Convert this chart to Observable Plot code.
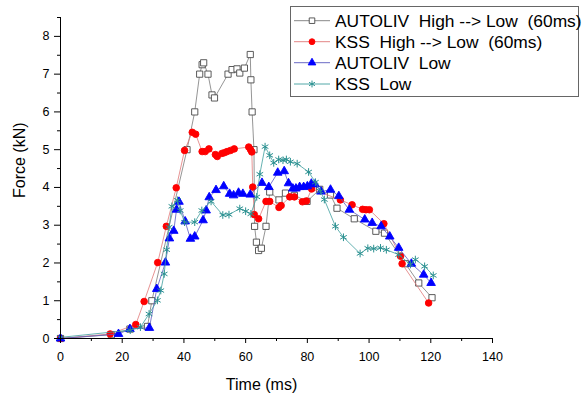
<!DOCTYPE html>
<html><head><meta charset="utf-8">
<script src="https://cdn.jsdelivr.net/npm/d3@7"></script>
<script src="https://cdn.jsdelivr.net/npm/@observablehq/plot@0.6"></script>
<style>
body{margin:0;background:#fff;}
#wrap{position:relative;width:587px;height:394px;font-family:"Liberation Sans",Arial,sans-serif;}
#wrap svg{display:block}
#legend{position:absolute;left:0;top:0;pointer-events:none}
</style></head><body><div id="wrap"></div>
<script>
const xTicks = [0, 20, 40, 60, 80, 100, 120, 140];
const xMinor = [10, 30, 50, 70, 90, 110, 130];
const yTicks = [0, 1, 2, 3, 4, 5, 6, 7, 8];
const yMinor = [0.5, 1.5, 2.5, 3.5, 4.5, 5.5, 6.5, 7.5, 8.5];
const seriesNames = ["AUTOLIV  High --> Low  (60ms)", "KSS  High --> Low  (60ms)", "AUTOLIV  Low", "KSS  Low"];

const autolivHLTime = [0, 16.5, 22.5, 28.2, 29.6, 41, 43.5, 45.1, 45.9, 46.4, 47.8, 49.1, 49.9, 54.3, 55.6, 57.2, 58.1, 59.6, 61.5, 61.7, 62.1, 62.7, 62.9, 63.5, 64.2, 65.1, 66.6, 67.8, 70.8, 72.9, 75.8, 79.9, 84, 87.5, 89.6, 95.2, 102.2, 105, 111.8, 116.1, 120.4];
const autolivHLForce = [0, 0.1, 0.25, 0.32, 1.0, 5.0, 6.0, 7.0, 7.25, 7.3, 7.0, 6.45, 6.37, 7.0, 7.12, 7.14, 7.03, 7.16, 7.52, 6.85, 6.0, 5.0, 2.97, 2.55, 2.33, 2.39, 2.97, 3.88, 3.67, 3.85, 3.79, 3.63, 3.95, 3.8, 3.45, 3.17, 2.84, 2.79, 1.98, 1.47, 1.08];

const kssHLTime = [0, 16.1, 24.4, 27.1, 31.5, 34.3, 37.5, 40.2, 42.7, 43.8, 45.9, 46.9, 48.1, 50.2, 50.8, 52.3, 53.1, 54, 55.1, 56.3, 61, 61.6, 62, 62.3, 62.8, 64.2, 66.6, 67.8, 70.8, 71.5, 74.3, 75.8, 78.4, 79.7, 81.4, 90.7, 94.5, 97.9, 99, 100.1, 104.8, 110.2, 110.7, 119.3];
const kssHLForce = [0, 0.12, 0.37, 0.98, 2.01, 2.97, 3.99, 4.98, 5.46, 5.41, 4.95, 4.95, 5.02, 4.87, 4.82, 4.9, 4.92, 4.95, 4.98, 5.02, 5.07, 5.0, 4.94, 4.01, 3.28, 3.17, 3.63, 3.63, 3.47, 3.52, 3.75, 3.75, 3.62, 3.64, 3.96, 3.67, 3.54, 3.42, 3.41, 3.41, 3.04, 2.18, 1.98, 0.94];

const autolivLowTime = [0, 18.8, 22.5, 28.8, 31.2, 34, 35.3, 36.7, 37.6, 38.4, 40.4, 42.1, 43.5, 46.2, 47.2, 48.2, 50.4, 52.9, 54.8, 56.1, 57.7, 59.1, 61.5, 65.3, 67.5, 70.4, 72.5, 73.9, 75.3, 76.3, 77.5, 78.8, 80, 81.3, 82.5, 84.4, 87.5, 90.2, 93.6, 98.6, 101, 103.9, 106.7, 109.6, 113.7, 117.7, 120.1];
const autolivLowForce = [0, 0.12, 0.25, 0.28, 1.31, 2.01, 2.65, 2.85, 3.41, 3.62, 3.1, 2.64, 2.7, 3.13, 3.39, 3.74, 3.93, 4.03, 3.83, 3.79, 3.86, 3.83, 3.81, 4.12, 4.01, 4.39, 4.43, 4.11, 3.97, 3.97, 4.01, 4.01, 4.03, 4.1, 4.08, 3.89, 3.94, 3.77, 3.41, 3.15, 3.06, 2.97, 2.7, 2.4, 1.98, 1.69, 1.47];

const kssLowTime = [0, 22.6, 25.9, 28.7, 31.4, 32.5, 33.6, 34.4, 35.2, 36.1, 37.9, 38.8, 40.2, 43.5, 45.8, 48.8, 52.6, 54.6, 58.1, 60, 61.7, 63.6, 64.6, 66.3, 67.8, 69.1, 70.7, 72.1, 73.2, 74.5, 76.7, 80.4, 82.6, 84.2, 85.5, 89.1, 91.7, 97.1, 99.6, 101.5, 103.7, 105.6, 109.6, 113.4, 115, 118, 120.8];
const kssLowForce = [0.03, 0.22, 0.3, 0.65, 1.01, 1.27, 1.71, 2.35, 2.95, 3.5, 3.66, 3.39, 3.08, 3.08, 3.39, 3.63, 3.27, 3.28, 3.44, 3.37, 3.3, 3.75, 4.35, 5.08, 4.85, 4.65, 4.74, 4.72, 4.74, 4.68, 4.63, 4.41, 4.14, 3.9, 3.68, 2.97, 2.68, 2.25, 2.39, 2.38, 2.4, 2.35, 2.22, 1.96, 2.09, 1.91, 1.67];

function rows(t, f) { return t.map((d, i) => ({t: d, f: f[i]})); }
const s1 = rows(autolivHLTime, autolivHLForce);
const s2 = rows(kssHLTime, kssHLForce);
const s3 = rows(autolivLowTime, autolivLowForce);
const s4 = rows(kssLowTime, kssLowForce);

const styles = [
  {line: "#7a7a7a", symbol: "square", fill: "#fff", stroke: "#4a4a4a", r: 3.5},
  {line: "#e07878", symbol: "circle", fill: "#ff0000", stroke: "#ff0000", r: 3.3},
  {line: "#5a5ac0", symbol: "triangle", fill: "#0000ff", stroke: "#0000ff", r: 3.2},
  {line: "#3f9e9e", symbol: "asterisk", fill: "none", stroke: "#2a9090", r: 3.6}
];
const data = [s1, s2, s3, s4];

const seriesMarks = [];
data.forEach((s, i) => {
  const st = styles[i];
  seriesMarks.push(Plot.line(s, {x: "t", y: "f", stroke: st.line, strokeWidth: 0.8}));
  seriesMarks.push(Plot.dot(s, {x: "t", y: "f", symbol: st.symbol, r: st.r, fill: st.fill, stroke: st.stroke, strokeWidth: st.symbol === "asterisk" ? 1 : 0.9}));
});

const chart = Plot.plot({
  width: 587, height: 394,
  marginLeft: 60, marginRight: 95, marginTop: 17, marginBottom: 56,
  style: {fontFamily: "Liberation Sans, Arial, sans-serif", fontSize: "12.5px", color: "#000", background: "#fff", overflow: "visible"},
  x: {domain: [0, 140]},
  y: {domain: [0, 8.5]},
  marks: [
    ...seriesMarks,
    Plot.ruleY([0], {stroke: "#000", strokeWidth: 1}),
    Plot.ruleX([0], {stroke: "#000", strokeWidth: 1}),
    Plot.axisX({ticks: xTicks, tickSize: 5, tickPadding: 9, label: null, fontSize: 12.5, stroke: "#000"}),
    Plot.axisX({ticks: xMinor, tickSize: 3, tickFormat: () => "", label: null}),
    Plot.axisY({ticks: yTicks, tickSize: 6, tickPadding: 5, label: null, fontSize: 12.5}),
    Plot.axisY({ticks: yMinor, tickSize: 3, tickFormat: () => "", label: null}),
    Plot.text(["Time (ms)"], {frameAnchor: "bottom", text: d => d, dx: -15, dy: 46, fontSize: 16, fontWeight: "normal", lineAnchor: "middle"}),
    Plot.text(["Force (kN)"], {frameAnchor: "left", text: d => d, rotate: -90, dx: -41, dy: 20, fontSize: 16, fontWeight: "normal", lineAnchor: "middle"})
  ]
});
const wrap = document.getElementById("wrap");
wrap.appendChild(chart);

// Legend overlay
const lg = d3.select(wrap).append("svg").attr("id", "legend").attr("width", 587).attr("height", 394);
lg.append("rect").attr("x", 290.5).attr("y", 6.5).attr("width", 288).attr("height", 90)
  .attr("fill", "#fff").attr("stroke", "#666").attr("stroke-width", 1);
const rowY = [20.7, 41.7, 62.7, 84];
const symMap = {square: d3.symbolSquare, circle: d3.symbolCircle, triangle: d3.symbolTriangle, asterisk: d3.symbolAsterisk};
seriesNames.forEach((name, i) => {
  const st = styles[i];
  const g = lg.append("g").attr("transform", `translate(0,${rowY[i]})`);
  g.append("line").attr("x1", 294).attr("x2", 330).attr("y1", 0).attr("y2", 0).attr("stroke", st.line).attr("stroke-width", 0.9);
  g.append("path").attr("transform", "translate(312,0)")
    .attr("d", d3.symbol(symMap[st.symbol], Math.PI * st.r * st.r * 0.8)())
    .attr("fill", st.fill).attr("stroke", st.stroke).attr("stroke-width", st.symbol === "asterisk" ? 1 : 0.9);
  g.append("text").attr("x", 335).attr("y", 6.2).attr("font-size", 17.4)
    .attr("font-family", "Liberation Sans, Arial, sans-serif").style("white-space", "pre").attr("fill", "#000").text(name);
});
</script></body></html>
